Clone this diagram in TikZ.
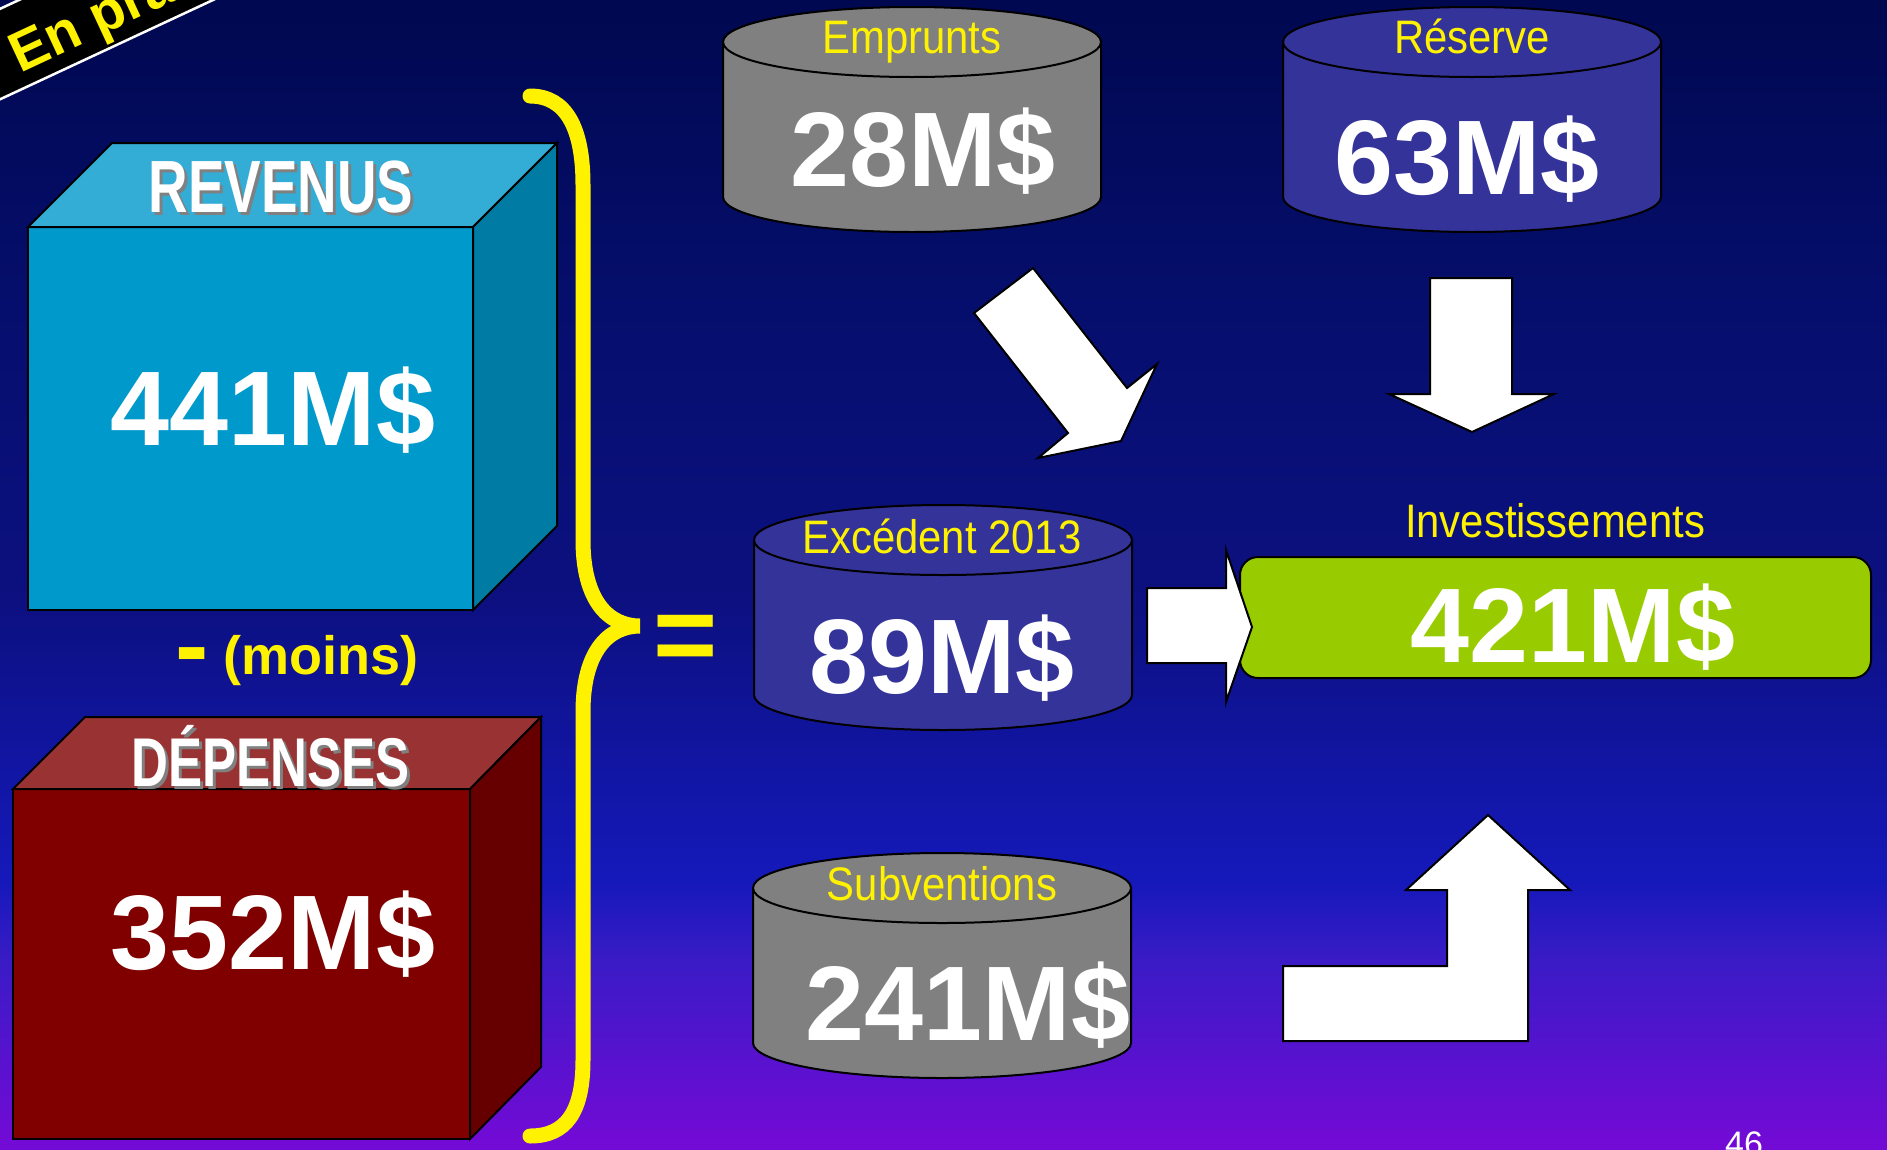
\documentclass[tikz,border=0pt]{standalone}
\usepackage{fontspec}
\setmainfont{Liberation Sans}
\newfontfamily\narrowfont{Liberation Sans}[FakeStretch=0.89]
\newfontfamily\condfont{Liberation Sans}[FakeStretch=0.74]

\definecolor{bgtop}{HTML}{000850}
\definecolor{bgdark}{HTML}{060F70}
\definecolor{bgmid}{HTML}{0C1080}
\definecolor{bgblue}{HTML}{1519BA}
\definecolor{bgviolet}{HTML}{3A1BC6}
\definecolor{bgbot}{HTML}{740AD6}
\definecolor{revfront}{HTML}{0099CC}
\definecolor{revtop}{HTML}{33ADD6}
\definecolor{revside}{HTML}{007BA3}
\definecolor{depfront}{HTML}{800000}
\definecolor{deptop}{HTML}{993333}
\definecolor{depside}{HTML}{660000}
\definecolor{drumgray}{HTML}{808080}
\definecolor{drumblue}{HTML}{333399}
\definecolor{investgreen}{HTML}{99CC00}

% the page is fitted to the middle 50bp of the shading
\pgfdeclareverticalshading{bgshade}{100bp}{color(0bp)=(bgbot); color(25bp)=(bgbot); color(33.2bp)=(bgviolet); color(36.7bp)=(bgblue); color(48.9bp)=(bgmid); color(59.8bp)=(bgdark); color(75bp)=(bgtop); color(100bp)=(bgtop)}

\tikzset{
  amount/.style={text=white, font=\bfseries\fontsize{106}{106}\selectfont, inner sep=0pt, anchor=base},
  heading/.style={text=yellow, font=\narrowfont\fontsize{47}{47}\selectfont, inner sep=0pt, anchor=base},
  cubetitle/.style={text=white, font=\condfont\bfseries\fontsize{74}{74}\selectfont, inner sep=0pt, anchor=base},
  cubeshade/.style={cubetitle, text=gray},
  face/.style={draw=black, line width=2},
  bigarrow/.style={fill=white, draw=black, line width=2, line join=miter},
}

% cylinder: centre x, top y, fill, name
\newcommand{\drum}[4]{%
  \filldraw[face, fill=#3] ({#1-189},#2) -- ({#1-189},{#2+155})
    .. controls ({#1-189},{#2+174}) and ({#1-104},{#2+190}) .. (#1,{#2+190})
    .. controls ({#1+104},{#2+190}) and ({#1+189},{#2+174}) .. ({#1+189},{#2+155})
    -- ({#1+189},#2) -- cycle;
  \filldraw[face, fill=#3] (#1,#2) ellipse [x radius=189, y radius=35];
  \coordinate (#4) at (#1,#2);
}

\begin{document}
\begin{tikzpicture}[x=1pt, y=-1pt]

\useasboundingbox (0,0) rectangle (1887,1149);
\clip (0,0) rectangle (1887,1149);
\shade[shading=bgshade] (0,0) rectangle (1887,1149);

% corner banner
\begin{scope}[shift={(5,97)}, rotate=25]
  \filldraw[fill=black, draw=white, line width=2.5] (-80,0) rectangle (480,-82);
  \node[transform shape, text=yellow, font=\bfseries\fontsize{56}{56}\selectfont, inner sep=0pt, anchor=base west] (banner) at (24,-15) {En pra};
\end{scope}

% revenus
\filldraw[face, fill=revfront] (28,227) rectangle (473,610);
\filldraw[face, fill=revtop] (28,227) -- (112,143) -- (557,143) -- (473,227) -- cycle;
\filldraw[face, fill=revside] (473,227) -- (557,143) -- (557,526) -- (473,610) -- cycle;
\node[cubeshade] (revenus-s) at (284,215) {REVENUS};
\node[cubetitle] (revenus) at (281,212) {REVENUS};
\node[amount] (v-revenus) at (273,445) {441M\$};

\node[text=yellow, font=\bfseries\fontsize{54}{54}\selectfont, inner sep=0pt, anchor=base west] (moins) at (175,674) {\raisebox{-5pt}{\fontsize{100}{100}\selectfont -} (moins)};

% depenses
\filldraw[face, fill=depfront] (13,789) rectangle (470,1139);
\filldraw[face, fill=deptop] (13,789) -- (85,717) -- (541,717) -- (470,789) -- cycle;
\filldraw[face, fill=depside] (470,789) -- (541,717) -- (541,1067) -- (470,1139) -- cycle;
\node[cubeshade, font=\condfont\bfseries\fontsize{69}{69}\selectfont] (depenses-s) at (274,789) {DÉPENSES};
\node[cubetitle, font=\condfont\bfseries\fontsize{69}{69}\selectfont] (depenses) at (271,786) {DÉPENSES};
\node[amount] (v-depenses) at (273,969) {352M\$};

% brace and equals
\draw[yellow, line width=15, line cap=round] (530,96) .. controls (566,96) and (583,128) .. (583,185)
  -- (583,540) .. controls (583,600) and (608,626) .. (640,626)
  .. controls (608,626) and (583,652) .. (583,712)
  -- (583,1060) .. controls (583,1112) and (566,1136) .. (530,1136);
\node[text=yellow, font=\bfseries\fontsize{110}{110}\selectfont, inner sep=0pt, anchor=base] (equals) at (686,672) {=};

% cylinders
\drum{912}{42}{drumgray}{emprunts}
\drum{1472}{42}{drumblue}{reserve}
\drum{943}{540}{drumblue}{excedent}
\drum{942}{888}{drumgray}{subventions}

\node[heading] (l-emprunts) at (912,53) {Emprunts};
\node[amount] (v-emprunts) at (923,186) {28M\$};
\node[heading] (l-reserve) at (1472,53) {Réserve};
\node[amount] (v-reserve) at (1467,194) {63M\$};
\node[heading] (l-excedent) at (942,553) {Excédent 2013};
\node[amount] (v-excedent) at (942,693) {89M\$};
\node[heading] (l-subventions) at (942,900) {Subventions};
\node[amount] (v-subventions) at (968,1040) {241M\$};

% arrows
\filldraw[bigarrow] (974,313) -- (1033,268) -- (1127,388) -- (1157,364) -- (1121,441) -- (1038,458) -- (1068,433) -- cycle;
\filldraw[bigarrow] (1430,278) -- (1512,278) -- (1512,394) -- (1554,394) -- (1472,432) -- (1389,394) -- (1430,394) -- cycle;
\filldraw[bigarrow] (1283,1041) -- (1283,966) -- (1447,966) -- (1447,890) -- (1406,890) -- (1488,815) -- (1570,890) -- (1528,890) -- (1528,1041) -- cycle;

% investissements
\filldraw[face, fill=investgreen, rounded corners=18] (1240,557) rectangle (1871,678);
\node[heading] (l-invest) at (1555,537) {Investissements};
\node[amount] (v-invest) at (1573,662) {421M\$};
\filldraw[bigarrow] (1147,588) -- (1226,588) -- (1226,550) -- (1252,627) -- (1226,702) -- (1226,663) -- (1147,663) -- cycle;

\node[text=white, font=\fontsize{34}{34}\selectfont, inner sep=0pt, anchor=base] (page) at (1744,1155) {46};

\end{tikzpicture}
\end{document}
